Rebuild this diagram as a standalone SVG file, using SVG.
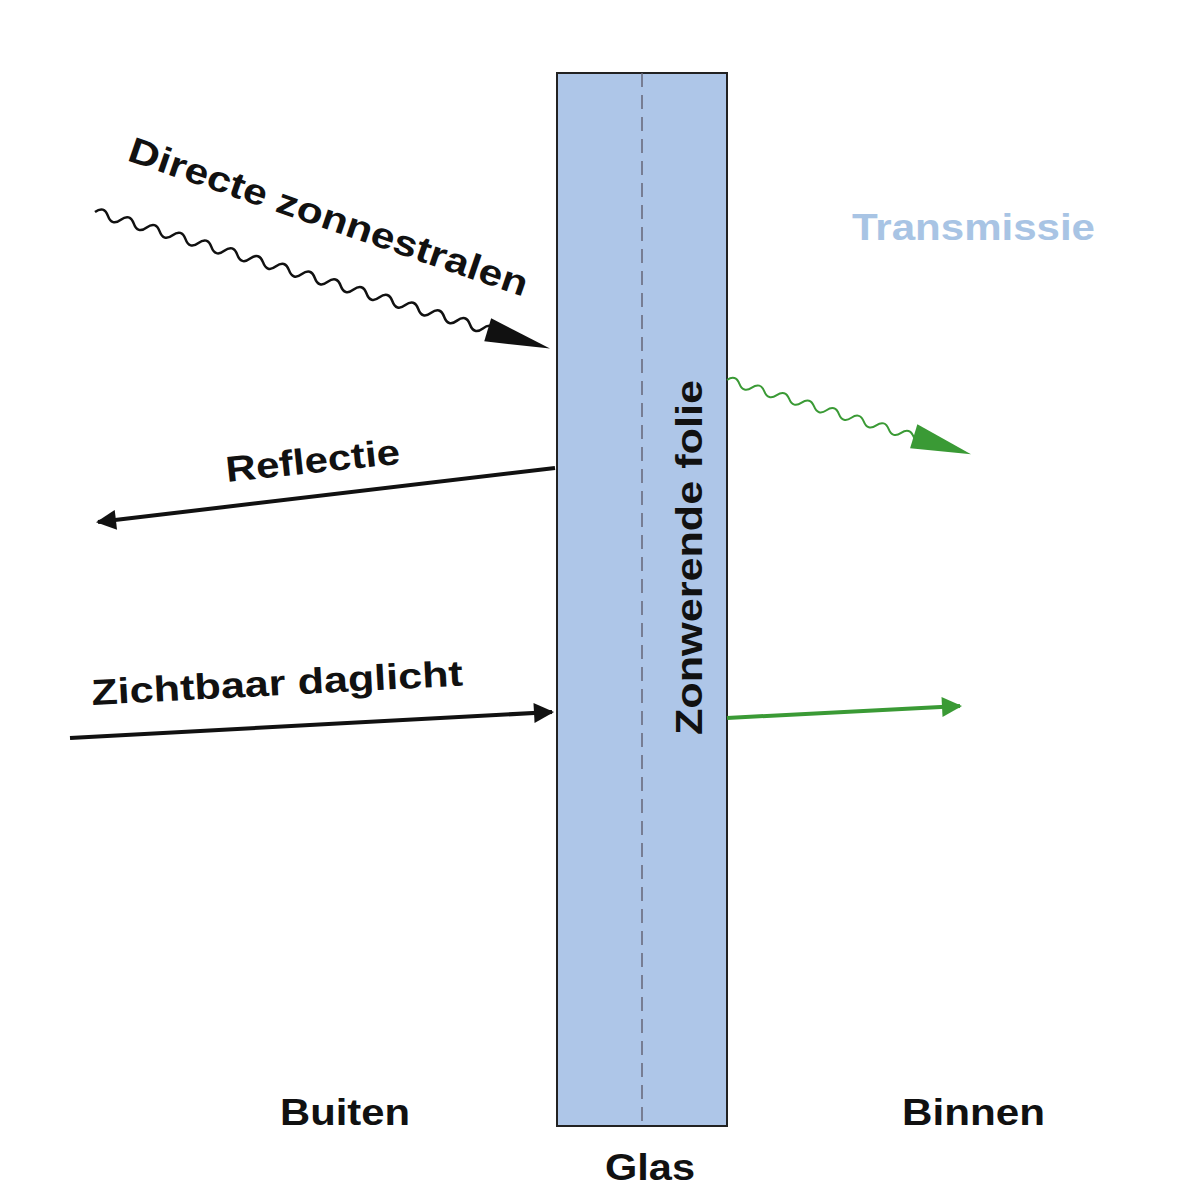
<svg xmlns="http://www.w3.org/2000/svg" width="1200" height="1200" viewBox="0 0 1200 1200">
<defs>
<style>
.t{font-family:"Liberation Sans",Arial,sans-serif;font-weight:bold;font-size:36px;fill:#111}
.wb{fill:none;stroke:#111;stroke-width:2.5}
.wg{fill:none;stroke:#3a9a35;stroke-width:2}
</style>
<marker id="ab" viewBox="0 0 10 10" refX="9" refY="5" markerWidth="6" markerHeight="5" orient="auto"><path d="M0 0L10 5L0 10z" fill="#111"/></marker>
<marker id="ag" viewBox="0 0 10 10" refX="9" refY="5" markerWidth="6" markerHeight="5" orient="auto"><path d="M0 0L10 5L0 10z" fill="#3a9a35"/></marker>
</defs>
<rect width="1200" height="1200" fill="#fff"/>
<g id="glas">
<rect x="557" y="73" width="170" height="1053" fill="#aec6e8" stroke="#222" stroke-width="2"/>
<line x1="642" y1="73" x2="642" y2="1126" stroke="#667" stroke-width="1.5" stroke-dasharray="14 8"/>
<text class="t" transform="translate(702,735) rotate(-90)" textLength="355" lengthAdjust="spacingAndGlyphs">Zonwerende folie</text>
<text class="t" x="605" y="1180" textLength="90" lengthAdjust="spacingAndGlyphs">Glas</text>
</g>
<g id="connectors">
<g transform="translate(95,212) rotate(16.7)">
<path class="wb" d="M0 0q6.75 -9 13.5 0t13.5 0t13.5 0t13.5 0t13.5 0t13.5 0t13.5 0t13.5 0t13.5 0t13.5 0t13.5 0t13.5 0t13.5 0t13.5 0t13.5 0t13.5 0t13.5 0t13.5 0t13.5 0t13.5 0t13.5 0t13.5 0t13.5 0t13.5 0t13.5 0t13.5 0t13.5 0t13.5 0t13.5 0t13.5 0t13 0"/>
<path d="M410 -12L475 0L410 12z" fill="#111"/>
</g>
<line x1="555" y1="468" x2="98" y2="522" stroke="#111" stroke-width="4" marker-end="url(#ab)"/>
<line x1="70" y1="738" x2="552" y2="712" stroke="#111" stroke-width="4" marker-end="url(#ab)"/>
<g transform="translate(727,380) rotate(16.9)">
<path class="wg" d="M0 0q6.5 -8 13 0t13 0t13 0t13 0t13 0t13 0t13 0t13 0t13 0t13 0t13 0t13 0t13 0t13 0t13 0t13 0"/>
<path d="M195 -13L255 0L195 12z" fill="#3a9a35"/>
</g>
<line x1="727" y1="718" x2="960" y2="706" stroke="#3a9a35" stroke-width="4" marker-end="url(#ag)"/>
</g>
<g id="labels">
<text class="t" transform="translate(126,160) rotate(19)" textLength="420" lengthAdjust="spacingAndGlyphs">Directe zonnestralen</text>
<text class="t" transform="translate(227,482) rotate(-6)" textLength="175" lengthAdjust="spacingAndGlyphs">Reflectie</text>
<text class="t" transform="translate(92,705) rotate(-3)" textLength="372" lengthAdjust="spacingAndGlyphs">Zichtbaar daglicht</text>
<text class="t" x="852" y="240" style="fill:#a8c4e4" textLength="243" lengthAdjust="spacingAndGlyphs">Transmissie</text>
<text class="t" x="280" y="1125" textLength="130" lengthAdjust="spacingAndGlyphs">Buiten</text>
<text class="t" x="902" y="1125" textLength="143" lengthAdjust="spacingAndGlyphs">Binnen</text>
</g>
</svg>
